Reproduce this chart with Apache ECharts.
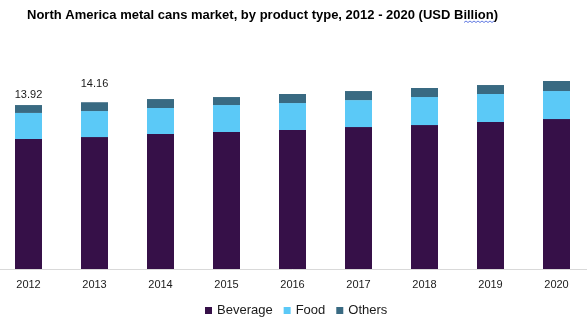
<!DOCTYPE html>
<html>
<head>
<meta charset="utf-8">
<script src="https://cdn.jsdelivr.net/npm/echarts@6/dist/echarts.min.js"></script>
<style>html,body{margin:0;padding:0;background:#fff;overflow:hidden;width:587px;height:321px}#c{position:absolute;left:-5px;top:0;width:597px;height:321px}</style>
</head>
<body>
<div id="c"></div>
<script>
var years = ['2012','2013','2014','2015','2016','2017','2018','2019','2020'];
var beverage = [11.04, 11.20, 11.46, 11.63, 11.80, 12.05, 12.22, 12.48, 12.73];
var food     = [2.21, 2.21, 2.21, 2.29, 2.29, 2.29, 2.38, 2.38, 2.38];
var others   = [0.67, 0.75, 0.76, 0.68, 0.77, 0.77, 0.77, 0.76, 0.85];
var totalLabels = ['13.92', '14.16', '', '', '', '', '', '', ''];
var labelDistances = [5, 13, 5, 5, 5, 5, 5, 5, 5];

var FONT = 'Arial, "Liberation Sans", sans-serif';
var OX = 5; // container offset
var chart = echarts.init(document.getElementById('c'), null, {renderer: 'canvas'});

var othersData = others.map(function (v, i) {
  return {
    value: v,
    label: {
      show: totalLabels[i] !== '',
      position: 'top',
      distance: labelDistances[i],
      formatter: function () { return totalLabels[i]; },
      fontSize: 11,
      color: '#1a1a1a',
      fontFamily: FONT
    }
  };
});

// wavy underline under "Billion"
var wave = [];
for (var k = 0; k <= 15; k++) {
  wave.push([OX + 464 + k * 2, (k % 2 === 0) ? 22.5 : 21]);
}

chart.setOption({
  animation: false,
  backgroundColor: '#fff',
  title: {
    text: 'North America metal cans market, by product type, 2012 - 2020 (USD Billion)',
    left: OX + 27,
    top: 9,
    padding: 0,
    textStyle: { fontSize: 13, fontWeight: 'bold', color: '#000', fontFamily: FONT }
  },
  graphic: [{
    type: 'polyline',
    shape: { points: wave },
    style: { stroke: '#3b5bdb', lineWidth: 0.8, fill: null },
    silent: true
  }],
  legend: {
    left: OX + 205,
    top: 304,
    padding: 0,
    itemWidth: 7,
    itemHeight: 7,
    itemGap: 11,
    icon: 'rect',
    textStyle: { fontSize: 13, color: '#1a1a1a', fontFamily: FONT },
    data: ['Beverage', 'Food', 'Others']
  },
  grid: { left: 0.5, right: 2.5, top: 57, bottom: 52, containLabel: false },
  xAxis: {
    type: 'category',
    data: years,
    axisLine: { lineStyle: { color: '#d9d9d9', width: 1 } },
    axisTick: { show: false },
    axisLabel: { fontSize: 11, color: '#1a1a1a', margin: 10, fontFamily: FONT }
  },
  yAxis: {
    type: 'value',
    min: 0,
    max: 18,
    show: false,
    splitLine: { show: false }
  },
  series: [
    { name: 'Beverage', type: 'bar', stack: 't', barWidth: 27, data: beverage, itemStyle: { color: '#361048' } },
    { name: 'Food', type: 'bar', stack: 't', barWidth: 27, data: food, itemStyle: { color: '#5bc9f7' } },
    { name: 'Others', type: 'bar', stack: 't', barWidth: 27, data: othersData, itemStyle: { color: '#396a82' } }
  ]
});
</script>
</body>
</html>
